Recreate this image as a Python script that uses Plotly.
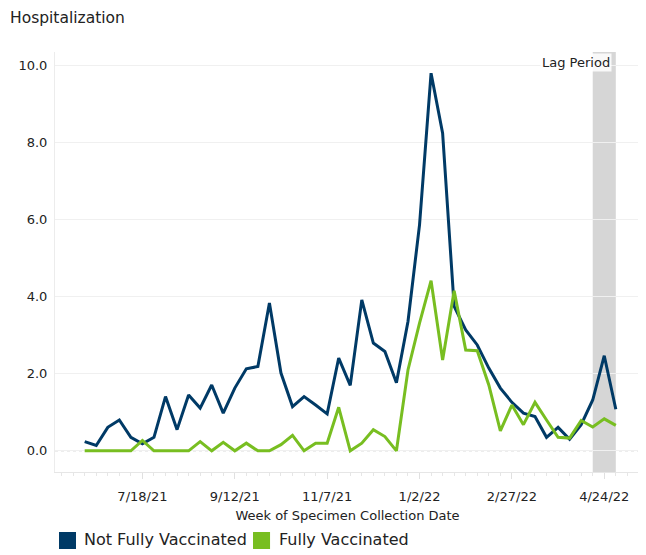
import pandas as pd
import plotly.graph_objects as go

weeks = pd.date_range("2021-06-13", periods=47, freq="7D")
not_fully = [0.24, 0.14, 0.61, 0.80, 0.35, 0.18, 0.35, 1.41, 0.55, 1.45, 1.11, 1.71,
             0.98, 1.63, 2.13, 2.19, 3.84, 2.02, 1.15, 1.41, 1.19, 0.96, 2.41, 1.70,
             3.92, 2.80, 2.58, 1.77, 3.36, 5.87, 9.81, 8.25, 3.75, 3.14, 2.75, 2.15,
             1.63, 1.26, 0.98, 0.89, 0.35, 0.61, 0.30, 0.68, 1.32, 2.47, 1.08]
fully = [0, 0, 0, 0, 0, 0.27, 0, 0, 0, 0, 0.24, 0, 0.22, 0, 0.20, 0, 0, 0.16, 0.40,
         0, 0.20, 0.20, 1.13, 0, 0.20, 0.55, 0.37, 0, 2.10, 3.32, 4.42, 2.36, 4.16,
         2.62, 2.60, 1.71, 0.52, 1.19, 0.68, 1.26, 0.80, 0.35, 0.33, 0.79, 0.62,
         0.83, 0.66]
series_names = ["Not Fully Vaccinated", "Fully Vaccinated"]
colors = ["#003a66", "#78be21"]
lag_start, lag_end = "2022-04-17", "2022-05-01"
y_ticks = [0, 2, 4, 6, 8, 10]

font = "DejaVu Sans"
W, H = 638, 547
fig = go.Figure()
for name, vals, c in zip(series_names, [not_fully, fully], colors):
    fig.add_trace(go.Scatter(x=weeks, y=vals, mode="lines", name=name,
                             line=dict(color=c, width=3), showlegend=False))

fig.add_shape(type="line", xref="paper", x0=0, x1=1, yref="y", y0=0, y1=0,
              line=dict(color="#c8c8c8", width=1, dash="dot"), layer="below")
fig.add_shape(type="rect", xref="x", x0=lag_start, x1=lag_end, yref="paper",
              y0=0, y1=1, fillcolor="#d6d6d6", line=dict(width=0), layer="below")
fig.add_annotation(x=lag_end, xref="x", xanchor="right", xshift=-4, y=0.976, yref="paper",
                   yanchor="middle", text="Lag Period", showarrow=False,
                   font=dict(family=font, size=13, color="#222"),
                   bgcolor="rgba(255,255,255,0.85)", borderpad=1)

# legend drawn as swatches + labels (paper coordinates)
legend_sw_x = [0.0068, 0.3385]
legend_txt_x = [0.0462, 0.3795]
for name, c, sx, tx in zip(series_names, colors, legend_sw_x, legend_txt_x):
    fig.add_shape(type="rect", xref="paper", yref="paper", x0=sx, x1=sx + 0.0291,
                  y0=-0.1833, y1=-0.1429, fillcolor=c, line=dict(width=0))
    fig.add_annotation(x=tx, y=-0.1619, xref="paper", yref="paper", xanchor="left",
                       yanchor="middle", text=name, showarrow=False,
                       font=dict(family=font, size=16, color="#222"))

fig.update_layout(
    width=W, height=H,
    margin=dict(l=47, r=6, t=44, b=83),
    paper_bgcolor="white", plot_bgcolor="white",
    font=dict(family=font, size=13, color="#333"),
    title=dict(text="Hospitalization", x=2/W, xanchor="left", xref="container",
               y=1-10/H, yanchor="middle", yref="container",
               font=dict(family=font, size=15.5, color="#222")),
    showlegend=False,
    xaxis=dict(range=["2021-05-26", "2022-05-15 16:00"], type="date",
               tick0="2021-07-18", dtick=8*7*24*3600*1000,
               tickformat="%-m/%-d/%y", showgrid=False, showline=True,
               linecolor="#e6e6e6", ticks="outside", ticklen=6, tickcolor="#e0e0e0",
               ticklabelstandoff=6,
               minor=dict(ticks="outside", dtick=7*24*3600*1000, tick0="2021-07-18",
                          ticklen=3, tickcolor="#e6e6e6", showgrid=False),
               title=dict(text="Week of Specimen Collection Date", standoff=8,
                          font=dict(family=font, size=13, color="#222")),
               tickfont=dict(family=font, size=13, color="#222"), zeroline=False),
    yaxis=dict(range=[-0.55, 10.36], tickvals=y_ticks,
               ticktext=[f"{v:.1f}" for v in y_ticks],
               showgrid=True, gridcolor="#f0f0f0", gridwidth=1,
               showline=True, linecolor="#ececec", zeroline=False,
               ticklabelstandoff=4,
               tickfont=dict(family=font, size=13, color="#222"), ticks=""),
)
fig.write_html("out.html")
